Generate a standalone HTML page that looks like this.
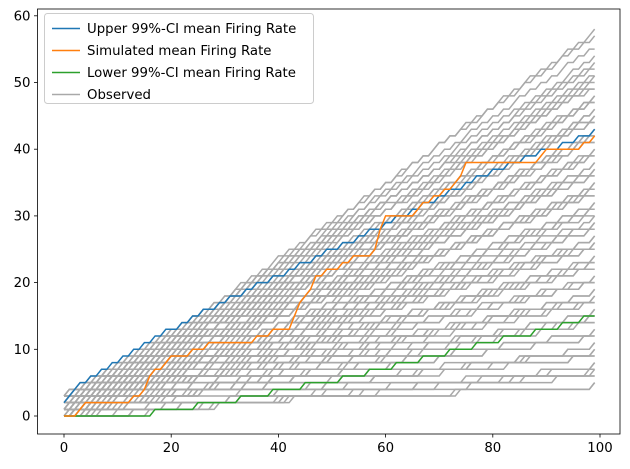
<!DOCTYPE html>
<html><head><meta charset="utf-8"><style>
html,body{margin:0;padding:0;background:#fff;width:630px;height:469px;overflow:hidden}
svg{font-family:"DejaVu Sans","Liberation Sans",sans-serif}
</style></head><body>
<svg id="chart" width="630" height="469" xmlns="http://www.w3.org/2000/svg"></svg>
<script>
const xTicks=[0,20,40,60,80,100];
const yTicks=[0,10,20,30,40,50,60];
const upperCI=[2,3,4,5,5,6,6,7,7,8,8,9,9,10,10,11,11,12,12,13,13,13,14,14,15,15,16,16,16,17,17,18,18,18,19,19,20,20,20,21,21,21,22,22,23,23,23,24,24,25,25,25,26,26,26,27,27,28,28,28,29,29,30,30,30,31,31,32,32,32,33,33,34,34,34,35,35,36,36,36,37,37,37,38,38,38,39,39,39,40,40,40,40,41,41,41,42,42,42,43];
const simulated=[0,0,0,1,2,2,2,2,2,2,2,2,2,3,3,4,6,7,7,8,9,9,9,9,10,10,10,11,11,11,11,11,11,11,11,11,12,12,12,13,13,13,13,15,17,18,19,21,21,22,22,22,23,23,24,24,24,24,25,28,30,30,30,30,30,30,31,32,32,33,33,34,34,35,36,38,38,38,38,38,38,38,38,38,38,38,38,38,38,39,40,40,40,40,40,40,40,41,41,42];
const lowerSteps=[17,25,33,39,45,52,57,62,67,72,77,82,88,93,97];
const observedTotals=[58,57,55,54,53,52,51,50,49,48,47,46,45,44,43,42,41,40,39,38,37,36,35,34,33,32,31,30,29,28,27,26,25,24,23,22,21,20,19,18,17,16,15,14,13,12,11,10,9,8,7,6,5,
 51,49,48,47,46,45,44,43,42,41,40,39,38,37,36,35,34,33,32,31,30,29,28,27,26,25,24,23,22,21,20,19,18,17,16,15,14,13,12,11,10,9,8,7,6,5];
const observedStarts=[0,1,0,2,0,1,0,3,1,0,2,0,1,3,0,2,1,0,3,2,0,1,2,0,3,1,0,2,1,0,3,2,1,0,2,1,0,3,1,2,0,1,3,0,2,1,0,2,1,0,1,0,2,
 3,2,1,0,3,2,1,0,3,2,1,0,3,2,1,0,3,2,1,0,3,2,1,0,3,2,1,0,3,2,1,0,3,2,1,0,3,2,1,0,3,2,1,0,3,2,1,0,3];

const L=37.5,R=620,T=9,B=434;
const xs=v=>64+v*5.36;
const ys=v=>416-v*6.67;
const svg=document.getElementById('chart');
const NS='http://www.w3.org/2000/svg';
function mk(tag,attrs,parent){const e=document.createElementNS(NS,tag);for(const k in attrs)e.setAttribute(k,attrs[k]);(parent||svg).appendChild(e);return e;}
function pathOf(vals){return vals.map((v,i)=>(i?'L':'M')+xs(i).toFixed(2)+' '+ys(v).toFixed(2)).join(' ');}

const gObs=mk('g',{});


observedTotals.forEach((tot,j)=>{
  const st=observedStarts[j];const n=tot-st;const ph=(j*0.37)%1;
  const vals=[];
  for(let i=0;i<100;i++){vals.push(Math.min(tot,st+Math.max(0,Math.floor((i+1)*n/99+ph*0.999-0.5))));}
  vals[99]=tot;
  const p=mk('path',{d:pathOf(vals),fill:'none',stroke:'#a9a9a9','stroke-width':1.5},gObs);
  
  
});
const lower=[];for(let i=0;i<100;i++){lower.push(lowerSteps.filter(s=>s<=i).length);}
const up=mk('path',{d:pathOf(upperCI),fill:'none',stroke:'#1f77b4','stroke-width':1.5});


const lo=mk('path',{d:pathOf(lower),fill:'none',stroke:'#2ca02c','stroke-width':1.5});


const si=mk('path',{d:pathOf(simulated),fill:'none',stroke:'#ff7f0e','stroke-width':1.5});



const frame=mk('rect',{x:L,y:T,width:R-L,height:B-T,fill:'none',stroke:'#000','stroke-width':0.8});


xTicks.forEach(t=>{
  mk('line',{x1:xs(t),x2:xs(t),y1:B,y2:B+3.5,stroke:'#000','stroke-width':0.8});
  const tx=mk('text',{x:xs(t),y:B+18,'text-anchor':'middle','font-size':'13.3',fill:'#000'});
  tx.textContent=t;
  
  
});
yTicks.forEach(t=>{
  mk('line',{x1:L,x2:L-3.5,y1:ys(t),y2:ys(t),stroke:'#000','stroke-width':0.8});
  const tx=mk('text',{x:L-7,y:ys(t)+4.5,'text-anchor':'end','font-size':'13.3',fill:'#000'});
  tx.textContent=t;
  
  
});

const leg=mk('g',{});


mk('rect',{x:44.5,y:13.5,width:269,height:90,rx:3,fill:'#fff','fill-opacity':0.8,stroke:'#ccc'},leg);
const legLabels=['Upper 99%-CI mean Firing Rate','Simulated mean Firing Rate','Lower 99%-CI mean Firing Rate','Observed'];
const legColors=['#1f77b4','#ff7f0e','#2ca02c','#a9a9a9'];
legLabels.forEach((lab,i)=>{
  const y=28.5+i*22;
  const g=mk('g',{},leg);
  
  
  mk('line',{x1:52,x2:80,y1:y,y2:y,stroke:legColors[i],'stroke-width':1.5},g);
  const tx=mk('text',{x:87,y:y+4.7,'font-size':'13.3',fill:'#000'},g);
  tx.textContent=lab;
});
</script>
</body></html>
